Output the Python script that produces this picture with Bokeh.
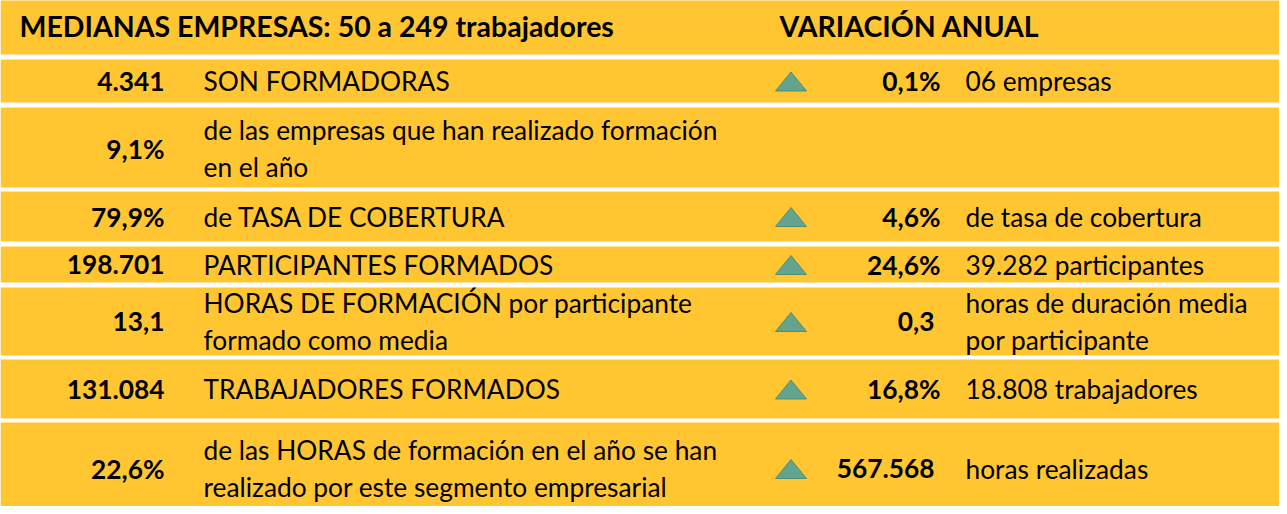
from bokeh.plotting import figure
from bokeh.models import Range1d, ColumnDataSource
from bokeh.core.properties import value
from bokeh.embed import file_html
from bokeh.resources import INLINE

# ---------------- data ----------------
header_left = "MEDIANAS EMPRESAS: 50 a 249 trabajadores"
header_right = "VARIACIÓN ANUAL"
left_values = ["4.341", "9,1%", "79,9%", "198.701", "13,1", "131.084", "22,6%"]
left_labels = [
    "SON FORMADORAS",
    "de las empresas que han realizado formación\nen el año",
    "de TASA DE COBERTURA",
    "PARTICIPANTES FORMADOS",
    "HORAS DE FORMACIÓN por participante\nformado como media",
    "TRABAJADORES FORMADOS",
    "de las HORAS de formación en el año se han\nrealizado por este segmento empresarial",
]
var_values = ["0,1%", "", "4,6%", "24,6%", "0,3", "16,8%", "567.568"]
var_labels = [
    "06 empresas",
    "",
    "de tasa de cobertura",
    "39.282 participantes",
    "horas de duración media\npor participante",
    "18.808 trabajadores",
    "horas realizadas",
]
var_up = [True, False, True, True, True, True, True]

# ---------------- layout (pixel space of the picture) ----------------
row_top = [5, 67, 115, 199, 254, 295, 367, 430]
row_bottom = [62, 110, 195, 249, 290, 363, 426, 514]
row_center = [33, 88.5, 156, 224, 272, 329, 396.5, 476]
LINE_GAP = 37
X_LEFT_VAL = 172
X_LEFT_LAB = 211
X_TRI = 798.5
X_VAR_PCT = 948
X_VAR_NUM = 942
X_VAR_LAB = 973
X_HDR_L = 27
X_HDR_R = 787
TRI_W, TRI_H = 31, 19

FONT = "Lato"
FS = "26.3px"
FS_HDR = "28.5px"
YELLOW = "#FFC632"
GREEN = "#64A48C"

W, H = 1279, 506
p = figure(width=W, height=H, output_backend="svg", toolbar_location=None,
           x_range=Range1d(8, 8 + W), y_range=Range1d(8 + H, 8),
           min_border=0, background_fill_color="white", border_fill_color="white")
p.outline_line_color = None
p.axis.visible = False
p.grid.visible = False

# row blocks
p.quad(left=[8] * len(row_top), right=[1287] * len(row_top),
       top=row_top, bottom=row_bottom, fill_color=YELLOW, line_color=None)

# headers
p.text(x=[X_HDR_L, X_HDR_R], y=[row_center[0]] * 2, text=[header_left, header_right],
       text_font=value(FONT), text_font_style="bold", text_font_size=FS_HDR,
       text_baseline="middle", text_align="left", text_color="black")

def split_lines(labels, xs):
    X, Y, T = [], [], []
    for i, lab in enumerate(labels):
        if not lab:
            continue
        lines = lab.split("\n")
        n = len(lines)
        for k, ln in enumerate(lines):
            X.append(xs)
            Y.append(row_center[i + 1] + (k - (n - 1) / 2) * LINE_GAP)
            T.append(ln)
    return X, Y, T

# left values
src = ColumnDataSource(dict(x=[X_LEFT_VAL] * len(left_values),
                            y=[row_center[i + 1] for i in range(len(left_values))],
                            t=left_values))
p.text(x="x", y="y", text="t", source=src, text_font=value(FONT), text_font_style="bold",
       text_font_size=FS, text_baseline="middle", text_align="right", text_color="black")

# left labels
X, Y, T = split_lines(left_labels, X_LEFT_LAB)
p.text(x=X, y=Y, text=T, text_font=value(FONT), text_font_size=FS,
       text_baseline="middle", text_align="left", text_color="black")

# variation values
vx, vy, vt = [], [], []
for i, v in enumerate(var_values):
    if v:
        vx.append(X_VAR_PCT if v.endswith("%") else X_VAR_NUM)
        vy.append(row_center[i + 1])
        vt.append(v)
p.text(x=vx, y=vy, text=vt, text_font=value(FONT), text_font_style="bold",
       text_font_size=FS, text_baseline="middle", text_align="right", text_color="black")

# variation labels
X, Y, T = split_lines(var_labels, X_VAR_LAB)
p.text(x=X, y=Y, text=T, text_font=value(FONT), text_font_size=FS,
       text_baseline="middle", text_align="left", text_color="black")

# up triangles
txs, tys = [], []
for i, up in enumerate(var_up):
    if up:
        cy = row_center[i + 1] + 0.5
        txs.append([X_TRI - TRI_W / 2, X_TRI + TRI_W / 2, X_TRI])
        tys.append([cy + TRI_H / 2, cy + TRI_H / 2, cy - TRI_H / 2])
p.patches(xs=txs, ys=tys, fill_color=GREEN, line_color="#4F8F78", line_width=1)

open("out.html", "w").write(file_html(p, INLINE))
